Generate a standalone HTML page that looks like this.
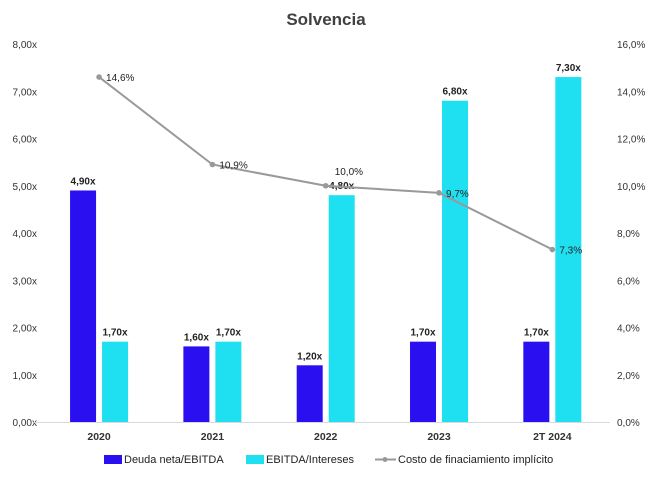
<!DOCTYPE html>
<html><head><meta charset="utf-8"><style>
body{margin:0;background:#fff;font-family:"Liberation Sans",sans-serif}
svg text{font-family:"Liberation Sans",sans-serif}
</style></head><body>
<svg width="653" height="475">
<text x="326" y="25" text-anchor="middle" font-size="17" font-weight="bold" fill="#404040">Solvencia</text>
<g id="axes"></g><g id="bars"></g><g id="line"></g>
<g font-size="11" fill="#222">
<rect x="104" y="455" width="18" height="9" fill="#2a0ff0"/>
<text x="124" y="463">Deuda neta/EBITDA</text>
<rect x="246" y="455" width="18" height="9" fill="#1fe0f0"/>
<text x="266" y="463">EBITDA/Intereses</text>
<line x1="375" y1="459.5" x2="396" y2="459.5" stroke="#999" stroke-width="2"/>
<circle cx="385" cy="459.5" r="2.5" fill="#999"/>
<text x="398" y="463">Costo de finaciamiento implícito</text>
</g>
</svg>
<script>
const categories=["2020","2021","2022","2023","2T 2024"];
const deuda=[4.9,1.6,1.2,1.7,1.7];
const ebitda=[1.7,1.7,4.8,6.8,7.3];
const costo=[14.6,10.9,10.0,9.7,7.3];
const leftTicks=[0,1,2,3,4,5,6,7,8];
const rightTicks=[0,2,4,6,8,10,12,14,16];
const NS="http://www.w3.org/2000/svg";
const X0=42.4,X1=609,Y0=422,Y1=44;
const step=(X1-X0)/categories.length;
const xc=i=>X0+step*(i+0.5);
const yl=v=>Y0-(v/8)*(Y0-Y1);
const yr=v=>Y0-(v/16)*(Y0-Y1);
const fmt=(v,d)=>v.toFixed(d).replace('.',',');
function mk(tag,attrs,parent,txt){const e=document.createElementNS(NS,tag);for(const k in attrs)e.setAttribute(k,attrs[k]);if(txt!==undefined)e.textContent=txt;parent.appendChild(e);return e;}
const axes=document.getElementById('axes'),bars=document.getElementById('bars'),line=document.getElementById('line');
leftTicks.forEach(t=>{const e=mk('text',{x:37,y:yl(t)+4,'text-anchor':'end','font-size':10,fill:'#333'},axes,fmt(t,2)+'x');

});
rightTicks.forEach(t=>{const e=mk('text',{x:617,y:yr(t)+4,'font-size':10,fill:'#333'},axes,fmt(t,1)+'%');

});
const ax=mk('line',{x1:34,x2:610,y1:Y0+0.5,y2:Y0+0.5,stroke:'#d9d9d9','stroke-width':1},axes);


categories.forEach((c,i)=>{const e=mk('text',{x:xc(i),y:440,'text-anchor':'middle','font-size':10.5,'font-weight':'bold',fill:'#333'},axes,c);


const bw=26;
const b1=mk('rect',{x:xc(i)-29,y:yl(deuda[i]),width:bw,height:Y0-yl(deuda[i]),fill:'#2a0ff0'},bars);


const l1=mk('text',{x:xc(i)-16,y:yl(deuda[i])-6,'text-anchor':'middle','font-size':10,'font-weight':'bold',fill:'#222'},bars,fmt(deuda[i],2)+'x');


const b2=mk('rect',{x:xc(i)+3,y:yl(ebitda[i]),width:bw,height:Y0-yl(ebitda[i]),fill:'#1fe0f0'},bars);


const l2=mk('text',{x:xc(i)+16,y:yl(ebitda[i])-6,'text-anchor':'middle','font-size':10,'font-weight':'bold',fill:'#222'},bars,fmt(ebitda[i],2)+'x');

});
const pts=costo.map((v,i)=>xc(i)+','+yr(v)).join(' ');
const pl=mk('polyline',{points:pts,fill:'none',stroke:'#999','stroke-width':2},line);


costo.forEach((v,i)=>{const c=mk('circle',{cx:xc(i),cy:yr(v),r:2.8,fill:'#999'},line);


const above=(i===2);
const t=mk('text',{x:above?xc(i)+9:xc(i)+7,y:above?yr(v)-11:yr(v)+4,'font-size':10,fill:'#222'},line,fmt(v,1)+'%');

});
</script>
</body></html>
